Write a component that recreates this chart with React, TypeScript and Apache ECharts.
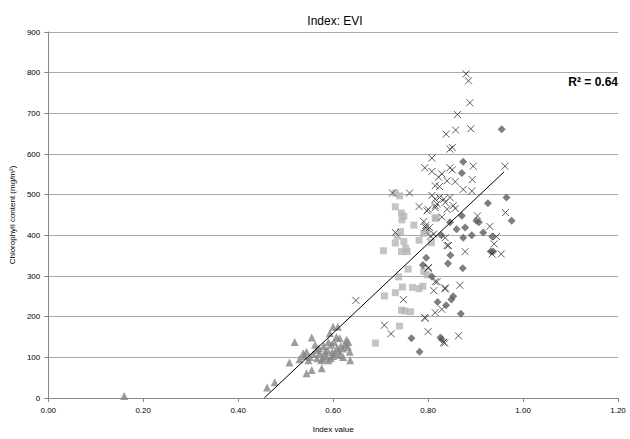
import React, { useEffect, useRef } from "react";
import * as echarts from "echarts";

const titleText = "Index: EVI";
const xName = "Index value";
const yName = "Chlorophyll content (mg/m²)";
const r2Text = "R² = 0.64";

const triangles: number[][] = [
  [0.16, 5], [0.461, 26], [0.477, 39], [0.508, 87], [0.519, 138], [0.529, 95], [0.537, 110],
  [0.544, 61], [0.555, 69], [0.555, 149], [0.544, 114], [0.551, 101], [0.562, 131], [0.576, 73],
  [0.572, 110], [0.579, 97], [0.583, 114], [0.59, 93], [0.593, 159], [0.596, 131], [0.6, 175],
  [0.61, 175], [0.607, 150], [0.614, 147], [0.604, 110], [0.614, 106], [0.621, 122], [0.628, 143],
  [0.631, 126], [0.635, 114], [0.636, 93], [0.621, 101], [0.565, 118], [0.57, 123], [0.585, 103],
  [0.588, 118], [0.598, 113], [0.6, 103], [0.608, 123], [0.612, 116], [0.625, 133], [0.632, 138],
  [0.54, 103], [0.548, 93], [0.558, 108], [0.566, 98], [0.575, 93], [0.595, 98], [0.602, 138],
  [0.616, 128], [0.58, 128], [0.59, 138],
];

const squares: number[][] = [
  [0.731, 504], [0.731, 470], [0.744, 455], [0.749, 447], [0.77, 425], [0.742, 409], [0.731, 381],
  [0.749, 385], [0.753, 368], [0.756, 360], [0.744, 360], [0.706, 362], [0.781, 388], [0.791, 405],
  [0.798, 413], [0.815, 442], [0.758, 317], [0.738, 298], [0.791, 311], [0.798, 303], [0.746, 273],
  [0.767, 272], [0.781, 269], [0.789, 275], [0.731, 259], [0.708, 251], [0.744, 216], [0.751, 214],
  [0.763, 212], [0.74, 177], [0.689, 135], [0.817, 443], [0.796, 409], [0.807, 382], [0.74, 497],
  [0.745, 438], [0.735, 398],
];

const crosses: number[][] = [
  [0.88, 797], [0.885, 780], [0.888, 726], [0.862, 697], [0.89, 662], [0.858, 659], [0.838, 649],
  [0.846, 612], [0.851, 616], [0.808, 590], [0.962, 570], [0.895, 570], [0.846, 566], [0.851, 561],
  [0.793, 566], [0.808, 557], [0.829, 551], [0.822, 543], [0.84, 534], [0.857, 532], [0.893, 537],
  [0.815, 522], [0.824, 520], [0.874, 513], [0.892, 509], [0.808, 498], [0.815, 489], [0.824, 493],
  [0.833, 489], [0.846, 493], [0.819, 477], [0.836, 481], [0.853, 473], [0.8, 464], [0.815, 468],
  [0.84, 464], [0.857, 466], [0.829, 445], [0.904, 448], [0.963, 456], [0.795, 424], [0.803, 419],
  [0.93, 422], [0.812, 403], [0.836, 394], [0.84, 375], [0.939, 379], [0.935, 354], [0.725, 504],
  [0.761, 504], [0.781, 471], [0.798, 460], [0.815, 473], [0.731, 407], [0.791, 434], [0.795, 419],
  [0.805, 398], [0.8, 319], [0.815, 286], [0.812, 264], [0.836, 268], [0.748, 242], [0.793, 198],
  [0.708, 179], [0.722, 158], [0.8, 163], [0.833, 137], [0.843, 375], [0.878, 360], [0.801, 321],
  [0.819, 286], [0.836, 271], [0.867, 277], [0.815, 210], [0.829, 218], [0.794, 196], [0.864, 153],
  [0.835, 135], [0.648, 240], [0.954, 354], [0.944, 397],
];

const diamonds: number[][] = [
  [0.955, 661], [0.874, 581], [0.871, 553], [0.965, 493], [0.926, 479], [0.871, 448], [0.846, 432],
  [0.902, 436], [0.907, 432], [0.86, 415], [0.878, 419], [0.916, 407], [0.892, 400], [0.874, 394],
  [0.935, 397], [0.937, 360], [0.828, 400], [0.976, 436], [0.796, 345], [0.847, 351], [0.842, 331],
  [0.873, 319], [0.789, 327], [0.808, 299], [0.853, 250], [0.849, 242], [0.838, 228], [0.869, 207],
  [0.765, 147], [0.826, 149], [0.829, 144], [0.782, 114], [0.932, 360], [0.82, 236],
];

const trend: number[][] = [
  [0.455, 0],
  [0.96, 556],
];

const xTicks = [0, 0.2, 0.4, 0.6, 0.8, 1.0, 1.2];
const yTicks = [0, 100, 200, 300, 400, 500, 600, 700, 800, 900];

const CROSS = "path://M0,0L10,10M10,0L0,10";

export default function App() {
  const ref = useRef<HTMLDivElement>(null);
  useEffect(() => {
    if (!ref.current) return;
    const chart = echarts.init(ref.current, null, { renderer: "svg" });
    const font = "Liberation Sans, Arial, sans-serif";
    chart.setOption({
      animation: false,
      backgroundColor: "#ffffff",
      textStyle: { fontFamily: font },
      title: {
        text: titleText,
        left: 330,
        textAlign: "center",
        top: 10,
        textStyle: { fontSize: 12, fontWeight: "normal", color: "#000", fontFamily: font },
      },
      grid: { left: 42, right: 12, top: 32, bottom: 41 },
      xAxis: {
        type: "value",
        min: xTicks[0],
        max: xTicks[xTicks.length - 1],
        interval: 0.2,
        name: xName,
        nameLocation: "middle",
        nameGap: 27,
        nameTextStyle: { fontSize: 8, color: "#000", fontFamily: font },
        axisLine: { show: true, lineStyle: { color: "#888", width: 1 } },
        axisTick: { show: true, length: 4, lineStyle: { color: "#888" } },
        axisLabel: {
          fontSize: 8,
          color: "#000",
          margin: 8,
          formatter: (v: number) => v.toFixed(2),
        },
        splitLine: { show: false },
      },
      yAxis: {
        type: "value",
        min: yTicks[0],
        max: yTicks[yTicks.length - 1],
        interval: 100,
        name: yName,
        nameLocation: "middle",
        nameGap: 25,
        nameTextStyle: { fontSize: 8, color: "#000", fontFamily: font },
        axisLine: { show: true, lineStyle: { color: "#888", width: 1 } },
        axisTick: { show: true, inside: false, length: 4, lineStyle: { color: "#888" } },
        axisLabel: { fontSize: 8, color: "#000", margin: 8 },
        splitLine: { show: true, lineStyle: { color: "#a8a8a8", width: 1 } },
      },
      graphic: [
        {
          type: "text",
          right: 12,
          top: 76,
          style: {
            text: r2Text,
            fontSize: 12,
            fontWeight: "bold",
            fill: "#000",
            fontFamily: font,
          },
        },
      ],
      series: [
        {
          type: "scatter",
          data: triangles,
          symbol: "triangle",
          symbolSize: 8,
          itemStyle: { color: "#858585" },
          z: 3,
        },
        {
          type: "scatter",
          data: squares,
          symbol: "rect",
          symbolSize: 7,
          itemStyle: { color: "#b5b5b5" },
          z: 3,
        },
        {
          type: "scatter",
          data: diamonds,
          symbol: "diamond",
          symbolSize: 8,
          itemStyle: { color: "#5e5e5e" },
          z: 4,
        },
        {
          type: "scatter",
          data: crosses,
          symbol: CROSS,
          symbolSize: 7,
          itemStyle: { color: "none", borderColor: "#333333", borderWidth: 1 },
          z: 5,
        },
        {
          type: "line",
          data: trend,
          symbol: "none",
          lineStyle: { color: "#000", width: 1 },
          z: 6,
        },
      ],
    });
    return () => chart.dispose();
  }, []);
  return <div ref={ref} style={{ width: 630, height: 439, position: "absolute", left: 0, top: 0 }} />;
}
